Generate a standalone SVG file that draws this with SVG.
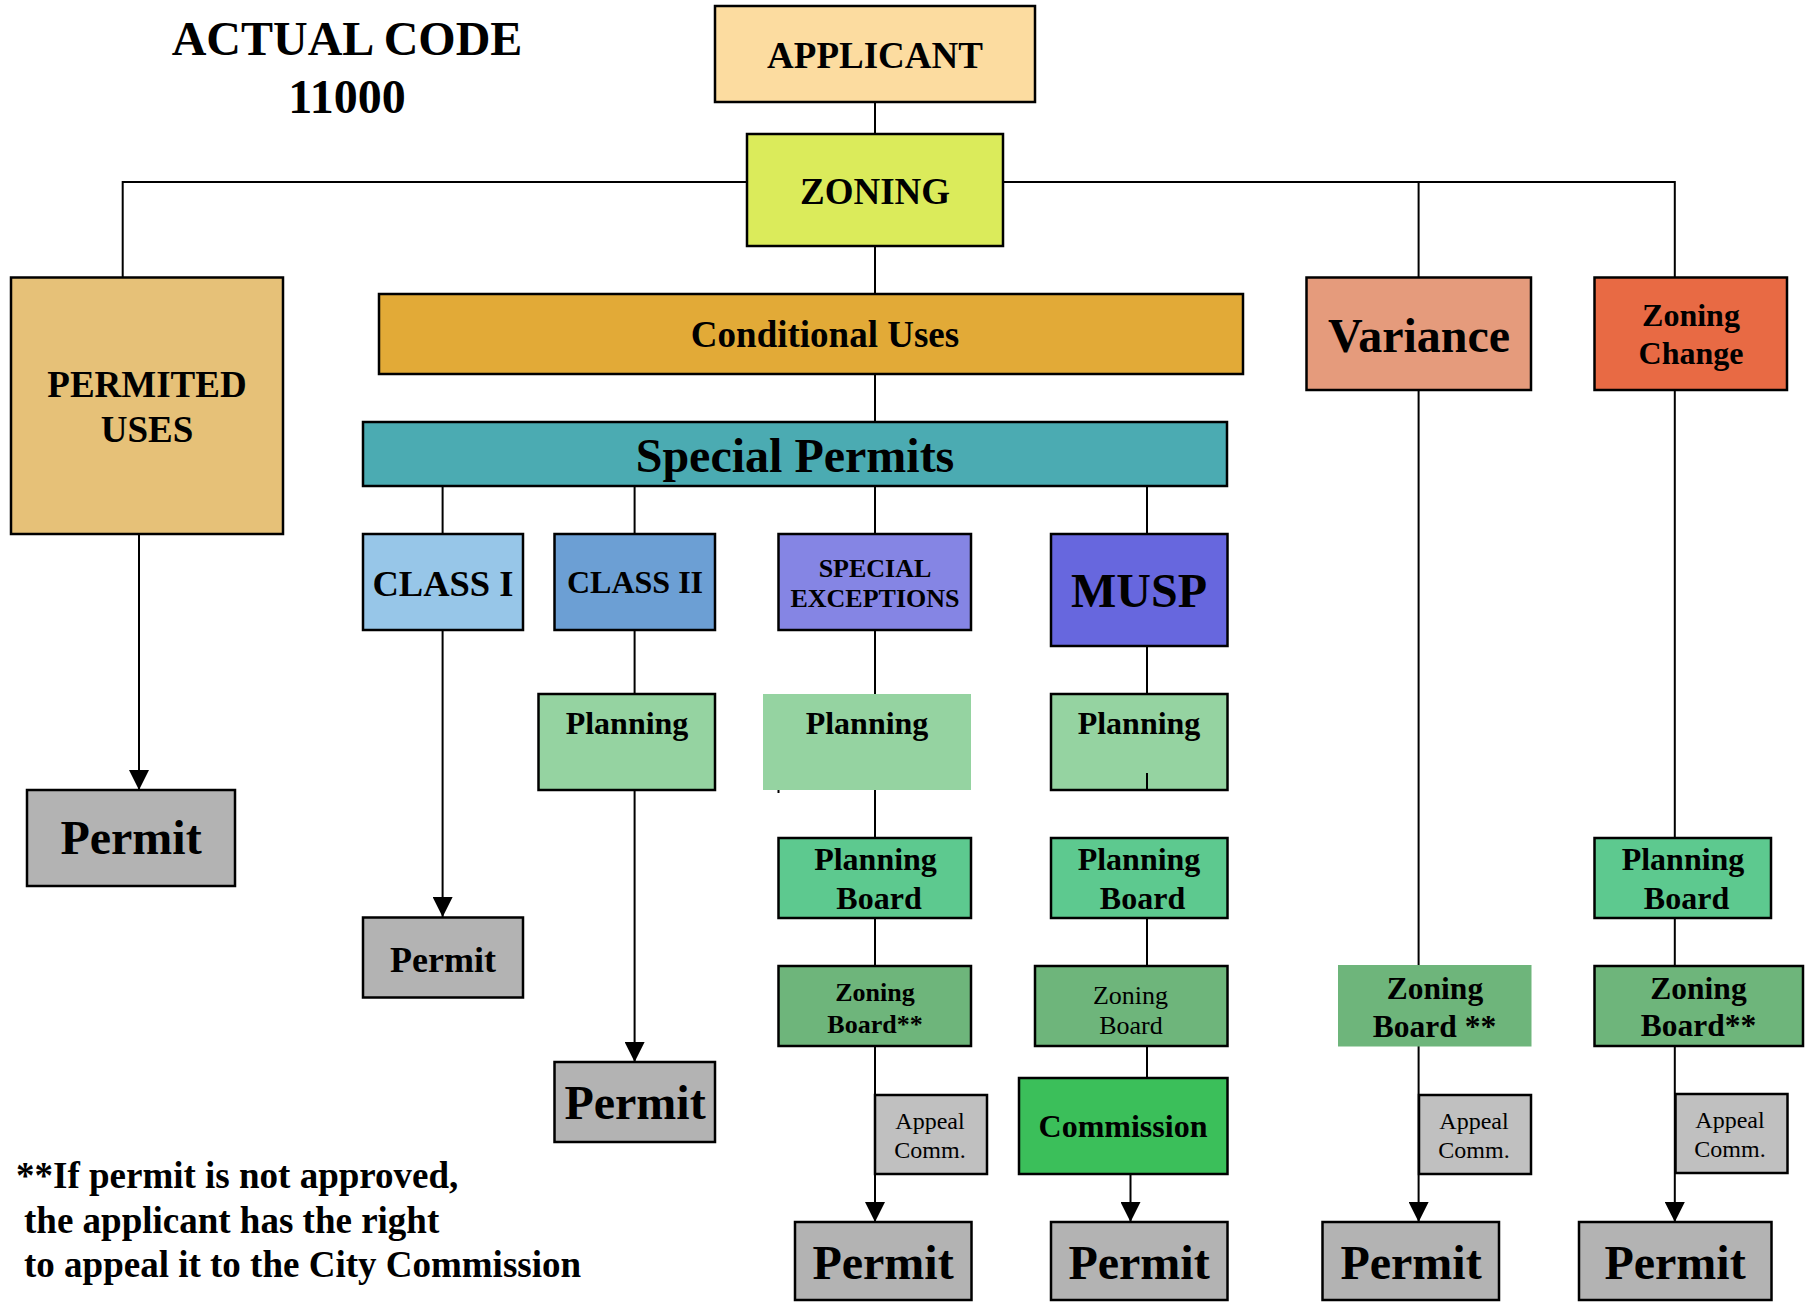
<svg xmlns="http://www.w3.org/2000/svg" width="1814" height="1302" viewBox="0 0 1814 1302">
<defs>
<marker id="arr" markerUnits="userSpaceOnUse" viewBox="0 0 20 20" refX="20" refY="10" markerWidth="20" markerHeight="20" orient="auto">
<path d="M0,0 L20,10 L0,20 z" fill="#000"/>
</marker>
<style>
.b{stroke:#000;stroke-width:2.5}
.nb{stroke:none}
.t{font-family:"Liberation Serif","Times New Roman",serif;font-weight:bold;fill:#000;text-anchor:middle}
.r{font-family:"Liberation Serif","Times New Roman",serif;font-weight:normal;fill:#000;text-anchor:middle}
.c{stroke:#000;stroke-width:2;fill:none}
.pm{fill:#B3B3B3}
.pl{fill:#95D3A1}
.pb{fill:#5DC98F}
.zb{fill:#6EB57B}
.ap{fill:#C0C0C0}
</style>
</defs>
<rect width="1814" height="1302" fill="#fff"/>

<g id="title">
<text class="t" x="347" y="55" font-size="48">ACTUAL CODE</text>
<text class="t" x="347" y="113" font-size="48">11000</text>
</g>

<g id="connectors">
<line class="c" x1="875" y1="102" x2="875" y2="134"/>
<polyline class="c" points="747,182 122.7,182 122.7,277.5"/>
<polyline class="c" points="1003,182 1674.8,182 1674.8,277.5"/>
<line class="c" x1="1418.6" y1="182" x2="1418.6" y2="277.5"/>
<line class="c" x1="875" y1="246" x2="875" y2="294"/>
<line class="c" x1="875" y1="374" x2="875" y2="422"/>
<line class="c" x1="442.6" y1="486" x2="442.6" y2="534"/>
<line class="c" x1="634.6" y1="486" x2="634.6" y2="534"/>
<line class="c" x1="875" y1="486" x2="875" y2="534"/>
<line class="c" x1="1147" y1="486" x2="1147" y2="534"/>
<line class="c" x1="139" y1="534" x2="139" y2="790" marker-end="url(#arr)"/>
<line class="c" x1="442.6" y1="630" x2="442.6" y2="917" marker-end="url(#arr)"/>
<line class="c" x1="634.6" y1="630" x2="634.6" y2="694"/>
<line class="c" x1="634.6" y1="790" x2="634.6" y2="1062" marker-end="url(#arr)"/>
<line class="c" x1="875" y1="630" x2="875" y2="694"/>
<line class="c" x1="875" y1="790" x2="875" y2="838"/>
<line class="c" x1="875" y1="918" x2="875" y2="966"/>
<line class="c" x1="875" y1="1046" x2="875" y2="1222" marker-end="url(#arr)"/>
<line class="c" x1="778.5" y1="788" x2="778.5" y2="793"/>
<line class="c" x1="1147" y1="646" x2="1147" y2="694"/>
<line class="c" x1="1147" y1="918" x2="1147" y2="966"/>
<line class="c" x1="1147" y1="1046" x2="1147" y2="1078"/>
<line class="c" x1="1130.5" y1="1174" x2="1130.5" y2="1222" marker-end="url(#arr)"/>
<line class="c" x1="1418.6" y1="390" x2="1418.6" y2="965"/>
<line class="c" x1="1418.6" y1="1046" x2="1418.6" y2="1222" marker-end="url(#arr)"/>
<line class="c" x1="1674.8" y1="390" x2="1674.8" y2="838"/>
<line class="c" x1="1674.8" y1="918" x2="1674.8" y2="966"/>
<line class="c" x1="1674.8" y1="1046" x2="1674.8" y2="1222" marker-end="url(#arr)"/>
</g>

<g id="applicant"><rect class="b" x="715" y="6" width="320" height="96" fill="#FCDCA0"/><text class="t" x="875" y="68" font-size="37">APPLICANT</text></g>
<g id="zoning"><rect class="b" x="747" y="134" width="256" height="112" fill="#DBEB5B"/><text class="t" x="875" y="204" font-size="37">ZONING</text></g>
<g id="permited-uses"><rect class="b" x="11" y="277.5" width="272" height="256.5" fill="#E6C178"/><text class="t" x="147" y="397" font-size="37">PERMITED</text><text class="t" x="147" y="442" font-size="37">USES</text></g>
<g id="conditional-uses"><rect class="b" x="379" y="294" width="864" height="80" fill="#E2AA37"/><text class="t" x="825" y="347" font-size="37">Conditional Uses</text></g>
<g id="special-permits"><rect class="b" x="363" y="422" width="864" height="64" fill="#4BABB2"/><text class="t" x="795" y="472" font-size="48">Special Permits</text></g>
<g id="variance"><rect class="b" x="1306.5" y="277.5" width="224.5" height="112.5" fill="#E59B7C"/><text class="t" x="1419" y="352" font-size="48">Variance</text></g>
<g id="zoning-change"><rect class="b" x="1594.5" y="277.5" width="192.5" height="112.5" fill="#E86A44"/><text class="t" x="1691" y="326" font-size="32">Zoning</text><text class="t" x="1691" y="364" font-size="32">Change</text></g>

<g id="class-1"><rect class="b" x="363" y="534" width="160" height="96" fill="#97C6E8"/><text class="t" x="443" y="596" font-size="36.5">CLASS I</text></g>
<g id="class-2"><rect class="b" x="554.5" y="534" width="160.5" height="96" fill="#6C9FD4"/><text class="t" x="635" y="593" font-size="32">CLASS II</text></g>
<g id="special-exceptions"><rect class="b" x="778.5" y="534" width="192.5" height="96" fill="#8585E4"/><text class="t" x="875" y="577" font-size="26">SPECIAL</text><text class="t" x="875" y="607" font-size="26">EXCEPTIONS</text></g>
<g id="musp"><rect class="b" x="1051" y="534" width="176.5" height="112" fill="#6767DE"/><text class="t" x="1139" y="607" font-size="48">MUSP</text></g>

<g id="permit-1"><rect class="b pm" x="27" y="790" width="208" height="96"/><text class="t" x="131" y="854" font-size="48">Permit</text></g>
<g id="permit-2"><rect class="b pm" x="363" y="917.5" width="160" height="80"/><text class="t" x="443" y="971.5" font-size="36">Permit</text></g>
<g id="planning-2"><rect class="b pl" x="538.5" y="694" width="176.5" height="96"/><text class="t" x="627" y="734" font-size="32">Planning</text></g>
<g id="permit-3"><rect class="b pm" x="554.5" y="1062" width="160.5" height="80"/><text class="t" x="635" y="1119" font-size="48">Permit</text></g>

<g id="planning-se"><rect class="nb pl" x="763" y="694" width="208" height="96"/><text class="t" x="867" y="734" font-size="32">Planning</text></g>
<g id="planning-board-se"><rect class="b pb" x="778.5" y="838" width="192.5" height="80"/><text class="t" x="875.5" y="870" font-size="32">Planning</text><text class="t" x="879" y="909" font-size="32">Board</text></g>
<g id="zoning-board-se"><rect class="b zb" x="778.5" y="966" width="192.5" height="80"/><text class="t" x="875" y="1001" font-size="26">Zoning</text><text class="t" x="875" y="1032.5" font-size="26">Board**</text></g>
<g id="appeal-se"><rect class="b ap" x="875" y="1095" width="112" height="79"/><text class="r" x="930" y="1129" font-size="24">Appeal</text><text class="r" x="930" y="1158" font-size="24">Comm.</text></g>
<g id="permit-se"><rect class="b pm" x="795" y="1222" width="176.5" height="78"/><text class="t" x="883" y="1279" font-size="48">Permit</text></g>

<g id="planning-musp"><rect class="b pl" x="1051" y="694" width="176.5" height="96"/><text class="t" x="1139" y="734" font-size="32">Planning</text><line class="c" x1="1147" y1="773" x2="1147" y2="790"/></g>
<g id="planning-board-musp"><rect class="b pb" x="1051" y="838" width="176.5" height="80"/><text class="t" x="1139" y="870" font-size="32">Planning</text><text class="t" x="1142.5" y="909" font-size="32">Board</text></g>
<g id="zoning-board-musp"><rect class="b zb" x="1035" y="966" width="192.5" height="80"/><text class="r" x="1130.5" y="1003.5" font-size="26">Zoning</text><text class="r" x="1131" y="1034" font-size="26">Board</text></g>
<g id="commission"><rect class="b" x="1019" y="1078" width="208.5" height="96" fill="#3BBF5A"/><text class="t" x="1123" y="1137" font-size="32">Commission</text></g>
<g id="permit-musp"><rect class="b pm" x="1051" y="1222" width="176.5" height="78"/><text class="t" x="1139" y="1279" font-size="48">Permit</text></g>

<g id="zoning-board-var"><rect class="nb zb" x="1338" y="965" width="193.5" height="81.5"/><text class="t" x="1435" y="998.5" font-size="31.5">Zoning</text><text class="t" x="1434.5" y="1036.5" font-size="31.5">Board **</text></g>
<g id="appeal-var"><rect class="b ap" x="1419" y="1095" width="112" height="79"/><text class="r" x="1474" y="1129" font-size="24">Appeal</text><text class="r" x="1474" y="1158" font-size="24">Comm.</text></g>
<g id="permit-var"><rect class="b pm" x="1322.5" y="1222" width="176.5" height="78"/><text class="t" x="1411" y="1279" font-size="48">Permit</text></g>

<g id="planning-board-zc"><rect class="b pb" x="1594.5" y="838" width="176.5" height="80"/><text class="t" x="1683" y="870" font-size="32">Planning</text><text class="t" x="1686.5" y="909" font-size="32">Board</text></g>
<g id="zoning-board-zc"><rect class="b zb" x="1594.5" y="966" width="208.5" height="80"/><text class="t" x="1698.5" y="998.5" font-size="31.5">Zoning</text><text class="t" x="1698.5" y="1036" font-size="31.5">Board**</text></g>
<g id="appeal-zc"><rect class="b ap" x="1675.5" y="1094" width="112" height="79"/><text class="r" x="1730" y="1128" font-size="24">Appeal</text><text class="r" x="1730" y="1157" font-size="24">Comm.</text></g>
<g id="permit-zc"><rect class="b pm" x="1579" y="1222" width="192.5" height="78"/><text class="t" x="1675" y="1279" font-size="48">Permit</text></g>

<g id="footnote">
<text class="t" x="16" y="1188" font-size="37" style="text-anchor:start">**If permit is not approved,</text>
<text class="t" x="24" y="1232.5" font-size="37" style="text-anchor:start">the applicant has the right</text>
<text class="t" x="24" y="1276.5" font-size="37" style="text-anchor:start">to appeal it to the City Commission</text>
</g>
</svg>
